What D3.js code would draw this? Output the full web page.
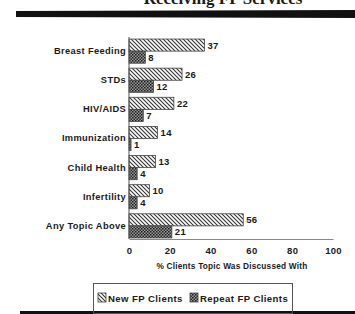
<!DOCTYPE html>
<html><head><meta charset="utf-8">
<script src="https://cdn.jsdelivr.net/npm/d3@7"></script>
<style>body{margin:0;background:#fff}svg{display:block}text{font-family:"Liberation Sans",Arial,sans-serif;font-weight:bold;fill:#1a1a1a}</style>
</head><body>
<script>
const categories = ["Breast Feeding","STDs","HIV/AIDS","Immunization","Child Health","Infertility","Any Topic Above"];
const newClients = [37,26,22,14,13,10,56];
const repeatClients = [8,12,7,1,4,4,21];
const seriesNames = ["New FP Clients","Repeat FP Clients"];
const xTicks = [0,20,40,60,80,100];
const title = "Receiving FP Services";
const xTitle = "% Clients Topic Was Discussed With";

const W=355,H=314;
const svg=d3.select("body").append("svg").attr("width",W).attr("height",H);
const defs=svg.append("defs");
const p1=defs.append("pattern").attr("id","diag").attr("patternUnits","userSpaceOnUse").attr("width",4).attr("height",4);
p1.append("rect").attr("width",4).attr("height",4).attr("fill","#fff");
p1.append("path").attr("d","M-1,-1L5,5M-1,3L1,5M3,-1L5,1").attr("stroke","#333").attr("stroke-width",1.1);
const p2=defs.append("pattern").attr("id","check").attr("patternUnits","userSpaceOnUse").attr("width",3).attr("height",3);
p2.append("rect").attr("width",3).attr("height",3).attr("fill","#999");
p2.append("rect").attr("width",1.5).attr("height",1.5).attr("fill","#1a1a1a");
p2.append("rect").attr("x",1.5).attr("y",1.5).attr("width",1.5).attr("height",1.5).attr("fill","#2a2a2a");

// title (partly above the top edge, as in the reference) and rules
svg.append("text").attr("x",223).attr("y",4).attr("text-anchor","middle")
  .style("font-family","'Liberation Serif','DejaVu Serif',serif").style("font-size","17px").text(title);
svg.append("polygon").attr("points","16,11 355,10 355,18 16,17").attr("fill","#111");
svg.append("rect").attr("x",20).attr("y",311).attr("width",335).attr("height",4).attr("fill","#111");

const x=d3.scaleLinear().domain([0,100]).range([129,333]);
const y=d3.scaleBand().domain(categories).range([37,240]).paddingInner(0.17).paddingOuter(0.07);
const y2=d3.scaleBand().domain(seriesNames).range([0,y.bandwidth()]);

const data=categories.map((c,i)=>({c,v:[newClients[i],repeatClients[i]]}));
const g=svg.append("g");
const fills=["url(#diag)","url(#check)"];
data.forEach(d=>{
  d.v.forEach((v,j)=>{
    const yy=y(d.c)+y2(seriesNames[j]);
    g.append("rect").attr("x",x(0)).attr("y",yy).attr("width",x(v)-x(0)).attr("height",y2.bandwidth())
      .attr("fill",fills[j]).attr("stroke","#444").attr("stroke-width",0.8);
    g.append("text").attr("x",x(v)+3).attr("y",yy+y2.bandwidth()/2).attr("dy","0.36em")
      .style("font-size","9.5px").style("letter-spacing","0.3px").text(v);
  });
});

// y axis
const ya=d3.axisLeft(y).tickSize(0).tickPadding(3);
const yg=svg.append("g").attr("transform",`translate(${x(0)},0)`).call(ya);
yg.select(".domain").attr("d",`M0,37V239`).attr("stroke","#555");
yg.selectAll("text").style("font-size","9.3px").style("letter-spacing","0.35px").style("font-family",null).attr("fill","#1a1a1a");

// x axis
const xa=d3.axisBottom(x).tickValues(xTicks).tickSize(0).tickPadding(8);
const xg=svg.append("g").attr("transform","translate(0,239)").call(xa);
xg.select(".domain").attr("stroke","#888");
xg.selectAll("text").style("font-size","9.5px").style("letter-spacing","0.3px").style("font-family",null).attr("fill","#1a1a1a");

svg.append("text").attr("x",232).attr("y",269).attr("text-anchor","middle").style("font-size","8.3px").style("letter-spacing","0.2px").text(xTitle);

// legend
svg.append("rect").attr("x",93.5).attr("y",283.5).attr("width",199).attr("height",30).attr("fill","none").attr("stroke","#555");
const lx=[98,190];
seriesNames.forEach((s,j)=>{
  svg.append("rect").attr("x",lx[j]).attr("y",293).attr("width",8).attr("height",9).attr("fill",fills[j]).attr("stroke","#444").attr("stroke-width",0.8);
  svg.append("text").attr("x",lx[j]+10).attr("y",301.5).style("font-size","9.6px").style("letter-spacing","0.4px").text(s);
});
</script>
</body></html>
